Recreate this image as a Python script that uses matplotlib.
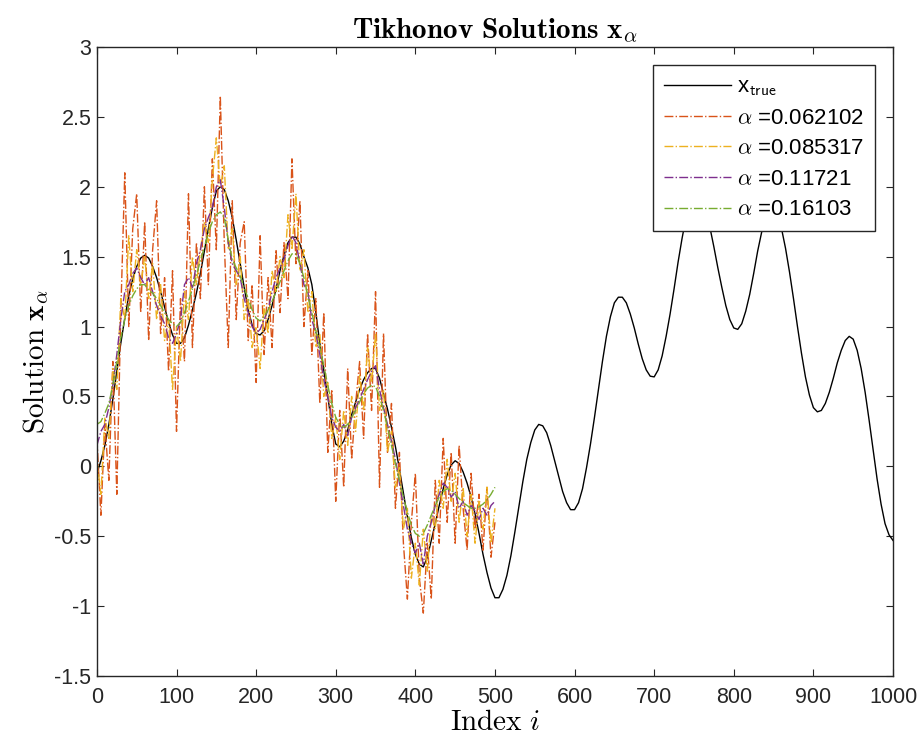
import matplotlib
matplotlib.use("Agg")
import matplotlib.pyplot as plt
import numpy as np

# true solution, sampled every 5 indices
idx_true = np.arange(0, 1001, 5)
x_true = [
    -0.05, 0.04, 0.15, 0.30, 0.48, 0.68, 0.88, 1.06, 1.22, 1.34,
    1.43, 1.49, 1.51, 1.49, 1.43, 1.35, 1.25, 1.14, 1.03, 0.94,
    0.88, 0.88, 0.92, 1.01, 1.12, 1.24, 1.38, 1.54, 1.70, 1.85,
    1.97, 2.00, 1.98, 1.90, 1.78, 1.62, 1.45, 1.28, 1.12, 1.01,
    0.95, 0.94, 0.97, 1.05, 1.15, 1.27, 1.40, 1.51, 1.60, 1.64,
    1.64, 1.59, 1.50, 1.42, 1.30, 1.10, 0.88, 0.685, 0.50, 0.30,
    0.16, 0.14, 0.18, 0.26, 0.37, 0.46, 0.55, 0.62, 0.67, 0.70,
    0.70, 0.63, 0.52, 0.41, 0.28, 0.14, -0.02, -0.19, -0.36, -0.51,
    -0.63, -0.70, -0.72, -0.65, -0.53, -0.41, -0.28, -0.16, -0.06, 0.01,
    0.04, 0.02, -0.04, -0.12, -0.22, -0.34, -0.48, -0.63, -0.76, -0.87,
    -0.94, -0.94, -0.88, -0.78, -0.64, -0.47, -0.29, -0.11, 0.05, 0.17,
    0.26, 0.30, 0.29, 0.24, 0.15, 0.04, -0.07, -0.18, -0.26, -0.31,
    -0.31, -0.26, -0.16, -0.01, 0.16, 0.35, 0.55, 0.75, 0.93, 1.07,
    1.17, 1.21, 1.21, 1.17, 1.09, 0.99, 0.875, 0.77, 0.69, 0.645,
    0.64, 0.69, 0.79, 0.93, 1.09, 1.27, 1.46, 1.63, 1.78, 1.88,
    1.94, 1.95, 1.91, 1.83, 1.71, 1.57, 1.42, 1.28, 1.15, 1.05,
    0.99, 0.98, 1.02, 1.11, 1.23, 1.38, 1.54, 1.675, 1.78, 1.84,
    1.85, 1.80, 1.70, 1.56, 1.39, 1.20, 1.00, 0.81, 0.64, 0.51,
    0.42, 0.39, 0.40, 0.45, 0.53, 0.63, 0.74, 0.83, 0.90, 0.93,
    0.91, 0.83, 0.70, 0.53, 0.33, 0.12, -0.09, -0.27, -0.41, -0.49,
    -0.53,
]

# regularized solutions, sampled every 5 indices (first half only)
idx_sol = np.arange(0, 501, 5)
alphas = ["0.062102", "0.085317", "0.11721", "0.16103"]

sol_a1 = [
    0.20, -0.35, 0.30, -0.10, 0.75, -0.20, 1.10, 2.10, 1.00, 1.70,
    1.95, 1.10, 1.75, 0.90, 1.55, 1.90, 0.95, 1.35, 0.68, 1.40,
    0.25, 1.20, 0.75, 1.95, 0.85, 1.60, 1.20, 2.00, 1.30, 2.20,
    1.55, 2.65, 1.60, 0.85, 1.90, 1.05, 1.60, 1.75, 0.90, 1.30,
    0.60, 1.65, 0.80, 1.35, 0.85, 1.55, 1.10, 1.60, 1.20, 2.20,
    1.45, 1.90, 1.00, 1.40, 0.80, 1.20, 0.45, 1.10, 0.10, 0.55,
    -0.25, 0.40, -0.15, 0.70, 0.05, 0.45, 0.75, 0.20, 0.95, 0.40,
    1.25, -0.15, 0.95, 0.10, 0.45, -0.30, 0.10, -0.55, -0.95, -0.40,
    -0.05, -0.80, -1.05, -0.55, -0.95, -0.10, -0.55, 0.20, -0.40, 0.10,
    -0.55, 0.15, -0.30, -0.60, -0.05, -0.45, -0.20, -0.60, -0.15, -0.65,
    -0.40,
]
sol_a2 = [
    0.05, -0.20, 0.35, 0.20, 0.70, 0.55, 1.20, 1.05, 1.65, 1.25,
    1.55, 1.30, 1.50, 1.20, 1.45, 1.05, 1.30, 0.90, 1.05, 0.55,
    1.00, 0.75, 1.25, 1.05, 1.50, 1.30, 1.55, 1.75, 1.60, 2.05,
    2.35, 2.00, 2.15, 1.55, 1.70, 1.30, 1.50, 1.05, 1.20, 0.85,
    1.00, 0.70, 1.15, 0.95, 1.40, 1.25, 1.50, 1.35, 1.80, 1.55,
    1.95, 1.40, 1.55, 1.10, 1.25, 0.85, 0.95, 0.50, 0.60, 0.20,
    0.35, 0.05, 0.40, 0.15, 0.50, 0.25, 0.65, 0.40, 0.85, 0.60,
    0.95, 0.40, 0.55, 0.10, 0.25, -0.15, 0.00, -0.45, -0.30, -0.80,
    -0.55, -0.85, -0.45, -0.75, -0.35, -0.45, -0.10, -0.30, 0.05, -0.25,
    -0.05, -0.40, -0.15, -0.50, -0.20, -0.55, -0.25, -0.45, -0.15, -0.55,
    -0.30,
]
sol_a3 = [
    0.15, 0.25, 0.30, 0.42, 0.58, 0.80, 1.05, 1.25, 1.30, 1.38,
    1.42, 1.35, 1.30, 1.35, 1.25, 1.15, 1.08, 1.02, 0.92, 0.88,
    0.95, 1.05, 1.30, 1.35, 1.28, 1.45, 1.55, 1.70, 1.78, 1.85,
    2.00, 2.05, 1.85, 1.60, 1.45, 1.40, 1.35, 1.20, 1.10, 1.00,
    0.95, 0.98, 1.05, 1.12, 1.25, 1.35, 1.42, 1.48, 1.58, 1.65,
    1.60, 1.45, 1.30, 1.25, 1.05, 0.95, 0.80, 0.62, 0.50, 0.35,
    0.28, 0.25, 0.30, 0.22, 0.35, 0.42, 0.48, 0.55, 0.62, 0.68,
    0.72, 0.55, 0.42, 0.30, 0.18, 0.05, -0.12, -0.28, -0.45, -0.55,
    -0.62, -0.55, -0.70, -0.50, -0.40, -0.28, -0.20, -0.12, -0.15, -0.22,
    -0.18, -0.30, -0.25, -0.35, -0.28, -0.32, -0.38, -0.30, -0.35, -0.28,
    -0.25,
]
sol_a4 = [
    0.30, 0.32, 0.38, 0.45, 0.58, 0.75, 0.92, 1.05, 1.15, 1.22,
    1.27, 1.30, 1.30, 1.26, 1.24, 1.20, 1.15, 1.10, 1.05, 1.02,
    1.00, 1.03, 1.10, 1.18, 1.27, 1.37, 1.47, 1.57, 1.67, 1.75,
    1.80, 1.82, 1.78, 1.62, 1.48, 1.42, 1.36, 1.28, 1.20, 1.12,
    1.06, 1.04, 1.07, 1.12, 1.18, 1.25, 1.32, 1.40, 1.47, 1.52,
    1.52, 1.45, 1.35, 1.22, 1.10, 0.97, 0.85, 0.72, 0.58, 0.45,
    0.35, 0.30, 0.28, 0.30, 0.35, 0.40, 0.46, 0.52, 0.56, 0.58,
    0.57, 0.50, 0.40, 0.28, 0.15, 0.02, -0.10, -0.22, -0.33, -0.42,
    -0.48, -0.50, -0.48, -0.42, -0.35, -0.28, -0.22, -0.18, -0.16, -0.17,
    -0.20, -0.23, -0.26, -0.28, -0.30, -0.30, -0.29, -0.27, -0.24, -0.20,
    -0.15,
]

colors = ["#D95319", "#EDB120", "#7E2F8E", "#77AC30"]

plt.rcParams["font.family"] = ["Liberation Sans", "DejaVu Sans"]
plt.rcParams["mathtext.fontset"] = "cm"

fig = plt.figure(figsize=(9.23, 7.44), dpi=100)
ax = fig.add_axes([0.105, 0.0914, 0.8625, 0.8454])

ax.plot(idx_true, x_true, color="black", lw=1.0, label=r"x$_{\mathsf{true}}$")
for sol, a, c in zip([sol_a1, sol_a2, sol_a3, sol_a4], alphas, colors):
    ax.plot(idx_sol, sol, color=c, lw=1.0, ls="-.", label=r"$\alpha$ =" + a)

ax.set_xlim(0, 1000)
ax.set_ylim(-1.5, 3)
ax.set_xticks(np.arange(0, 1001, 100))
yt = np.arange(-1.5, 3.01, 0.5)
ax.set_yticks(yt)
ax.set_yticklabels(["%g" % v for v in yt])
ax.tick_params(direction="in", top=True, right=True, length=5,
               labelsize=15.5, colors="#262626")
ax.tick_params(axis="x", pad=8)
ax.tick_params(axis="y", pad=4)
for s in ax.spines.values():
    s.set_color("#262626")
    s.set_linewidth(1.0)

ax.set_title(r"$\mathbf{Tikhonov\ Solutions\ x}_{\alpha}$", fontsize=21, pad=6)
ax.set_xlabel(r"$\mathrm{Index}\ i$", fontsize=21, labelpad=0)
ax.set_ylabel(r"$\mathrm{Solution}\ \mathbf{x}_{\alpha}$", fontsize=21, labelpad=2)

leg = ax.legend(loc="upper right", bbox_to_anchor=(0.977, 0.971), fontsize=16,
                fancybox=False, framealpha=1, edgecolor="#262626",
                handlelength=3.0, handletextpad=0.25, labelspacing=0.43,
                borderpad=0.5, borderaxespad=0)
leg.get_frame().set_linewidth(1.0)

fig.savefig("out.png", dpi=100)
